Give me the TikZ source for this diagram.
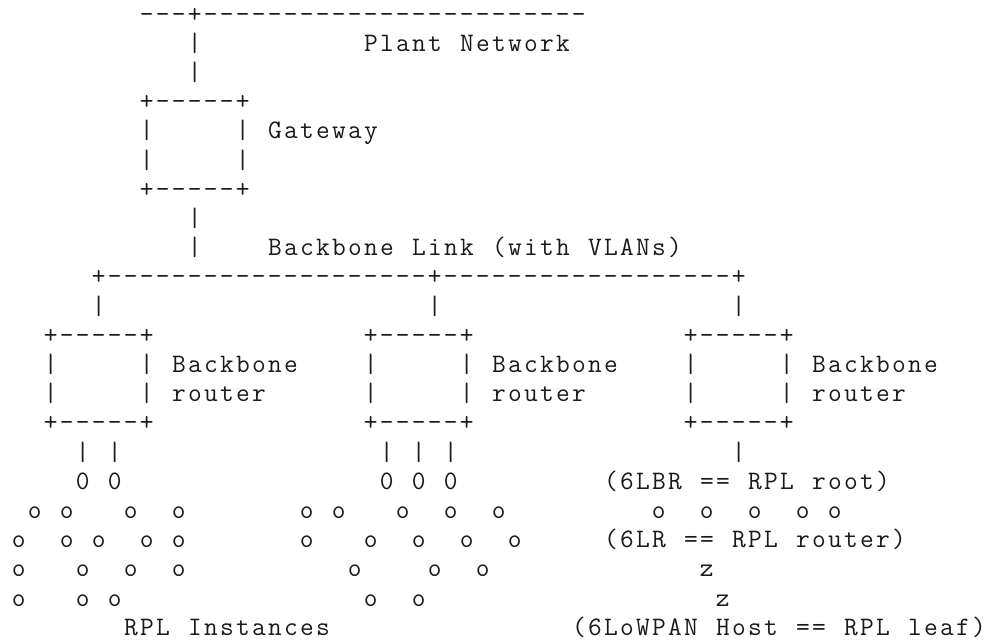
\documentclass[tikz,border=0pt]{standalone}
\definecolor{ink}{HTML}{1A1A1A}
% typewriter face used for every character of the figure
\newcommand\ttsize{\fontsize{20pt}{22pt}\selectfont\ttfamily}
% set a string one character per fixed 12pt cell (~ = blank cell)
\newcommand\cellrow[1]{\cellrowstep#1\relax}
\newcommand\cellrowstep[1]{\ifx\relax#1\else\makebox[12pt]{#1}\expandafter\cellrowstep\fi}
\tikzset{
  chr/.style={font=\ttsize, inner sep=0pt, anchor=base, text=ink},
  txt/.style={font=\ttsize, inner sep=0pt, anchor=base west, text=ink},
  asciibox/.pic={
    \node[chr] (-tl) at (0,0) {+};
    \node[chr] (-tr) at (6,0) {+};
    \node[chr] (-bl) at (0,3) {+};
    \node[chr] (-br) at (6,3) {+};
    \foreach \c in {1,...,5} {
      \node[chr] (-top\c) at (\c,0) {-};
      \node[chr] (-bot\c) at (\c,3) {-};
    }
    \foreach \r in {1,2} {
      \node[chr] (-l\r) at (0,\r) {|};
      \node[chr] (-r\r) at (6,\r) {|};
    }
  }
}
\begin{document}
\begin{tikzpicture}
\useasboundingbox (0,0) rectangle (739.5pt,-482.25pt);
% (column, line) grid: 12pt per column, 21.9pt per line
\begin{scope}[shift={(14pt,5.4pt)}, x=12pt, y=-21.9pt]
  % plant network bus and its drop to the gateway
  \foreach \c in {8,...,10} \node[chr] (pa\c) at (\c,1) {-};
  \node[chr] (plantjoin) at (11,1) {+};
  \foreach \c in {12,...,35} \node[chr] (pb\c) at (\c,1) {-};
  \node[txt] (plant) at (21.5,2) {\cellrow{Plant~Network}};
  \foreach \n in {2,3} \node[chr] (gwup\n) at (11,\n) {|};

  % gateway
  \pic (gw) at (8,4) {asciibox};
  \node[txt] (gwname) at (15.5,5) {\cellrow{Gateway}};
  \foreach \n in {8,9} \node[chr] (gwdown\n) at (11,\n) {|};
  \node[txt] (bblink) at (15.5,9) {\cellrow{Backbone~Link~(with~VLANs)}};

  % backbone link
  \node[chr] (bbl) at (5,10) {+};
  \foreach \c in {6,...,25} \node[chr] (ba\c) at (\c,10) {-};
  \node[chr] (bbm) at (26,10) {+};
  \foreach \c in {27,...,44} \node[chr] (bb\c) at (\c,10) {-};
  \node[chr] (bbr) at (45,10) {+};
  \foreach \c in {5,26,45} \node[chr] (drop\c) at (\c,11) {|};

  % backbone routers
  \pic (bra) at (2,12) {asciibox};
  \pic (brb) at (22,12) {asciibox};
  \pic (brc) at (42,12) {asciibox};
  \foreach \c/\k in {9.5/a,29.5/b,49.5/c} {
    \node[txt] (bbname\k) at (\c,13) {\cellrow{Backbone}};
    \node[txt] (rtname\k) at (\c,14) {\cellrow{router}};
  }

  % links to the RPL roots
  \foreach \c in {4,6,23,25,27,45} \node[chr] (up\c) at (\c,16) {|};
  \foreach \c in {4,6,23,25,27} \node[chr] (root\c) at (\c,17) {0};
  \node[txt] (rootnote) at (36.5,17) {\cellrow{(6LBR~==~RPL~root)}};

  % RPL instance nodes
  \foreach \c in {1,3,7,10,18,20,24,27,30,40,43,46,49,51}
    \node[chr] (na\c) at (\c,18) {o};
  \foreach \c in {0,3,5,8,10,18,22,25,28,31}
    \node[chr] (nb\c) at (\c,19) {o};
  \node[txt] (lrnote) at (36.5,19) {\cellrow{(6LR~==~RPL~router)}};
  \foreach \c in {0,4,7,10,21,26,29}
    \node[chr] (nc\c) at (\c,20) {o};
  \node[chr] (hosta) at (43,20) {z};
  \foreach \c in {0,4,6,22,25}
    \node[chr] (nd\c) at (\c,21) {o};
  \node[chr] (hostb) at (44,21) {z};

  \node[txt] (instances) at (6.5,22) {\cellrow{RPL~Instances}};
  \node[txt] (leafnote) at (34.5,22) {\cellrow{(6LoWPAN~Host~==~RPL~leaf)}};
\end{scope}
\end{tikzpicture}
\end{document}
